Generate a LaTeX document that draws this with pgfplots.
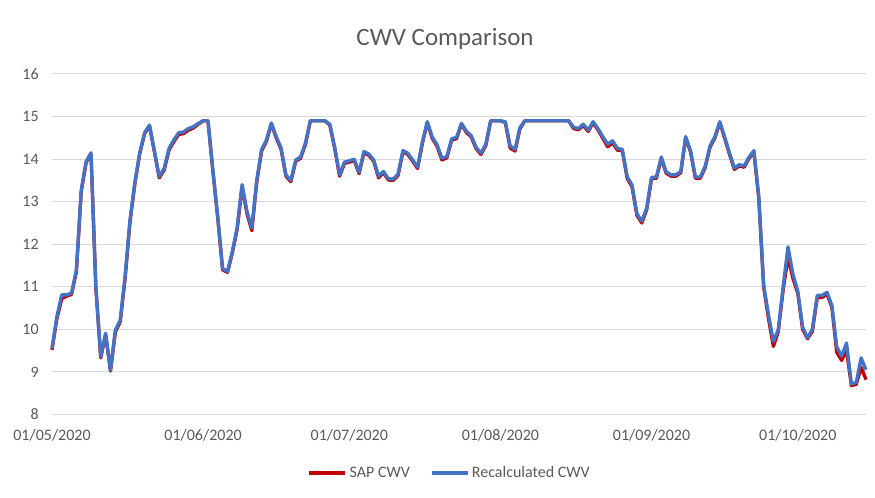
\documentclass[border=0pt]{standalone}
\usepackage{fontspec}
\setmainfont{Carlito}
\usepackage{pgfplots}
\usepackage{pgfplotstable}
\pgfplotsset{compat=1.18}
\definecolor{sapred}{HTML}{C00000}
\definecolor{recblue}{HTML}{4472C4}
\definecolor{gridgrey}{HTML}{D9D9D9}
\definecolor{textgrey}{HTML}{595959}

\pgfplotstableread{
d sap rec
0 9.52 9.55
1 10.25 10.30
2 10.72 10.81
3 10.78 10.81
4 10.82 10.85
5 11.35 11.39
6 13.24 13.27
7 13.92 13.94
8 14.13 14.15
9 10.97 11.00
10 9.33 9.36
11 9.88 9.91
12 9.02 9.04
13 9.94 9.98
14 10.18 10.22
15 11.20 11.25
16 12.52 12.57
17 13.42 13.45
18 14.13 14.15
19 14.60 14.62
20 14.78 14.80
21 14.18 14.20
22 13.56 13.59
23 13.74 13.78
24 14.21 14.25
25 14.41 14.45
26 14.58 14.62
27 14.60 14.64
28 14.68 14.72
29 14.73 14.76
30 14.82 14.84
31 14.90 14.90
32 14.90 14.90
33 13.72 13.75
34 12.62 12.66
35 11.40 11.43
36 11.34 11.36
37 11.80 11.83
38 12.36 12.40
39 13.36 13.40
40 12.72 12.77
41 12.32 12.38
42 13.46 13.50
43 14.19 14.22
44 14.42 14.45
45 14.83 14.85
46 14.50 14.53
47 14.23 14.26
48 13.60 13.63
49 13.47 13.50
50 13.95 13.98
51 14.02 14.05
52 14.35 14.38
53 14.90 14.90
54 14.90 14.90
55 14.90 14.90
56 14.90 14.90
57 14.80 14.82
58 14.25 14.28
59 13.60 13.63
60 13.90 13.93
61 13.93 13.96
62 13.97 14.00
63 13.66 13.69
64 14.15 14.18
65 14.09 14.12
66 13.95 13.98
67 13.56 13.60
68 13.68 13.71
69 13.51 13.54
70 13.50 13.53
71 13.62 13.65
72 14.17 14.20
73 14.11 14.14
74 13.95 13.98
75 13.78 13.81
76 14.38 14.41
77 14.86 14.88
78 14.49 14.52
79 14.30 14.34
80 13.98 14.02
81 14.03 14.06
82 14.45 14.48
83 14.48 14.51
84 14.82 14.84
85 14.63 14.66
86 14.52 14.55
87 14.25 14.28
88 14.11 14.14
89 14.32 14.35
90 14.90 14.90
91 14.90 14.90
92 14.90 14.90
93 14.86 14.88
94 14.26 14.31
95 14.19 14.23
96 14.71 14.74
97 14.90 14.90
98 14.90 14.90
99 14.90 14.90
100 14.90 14.90
101 14.90 14.90
102 14.90 14.90
103 14.90 14.90
104 14.90 14.90
105 14.90 14.90
106 14.90 14.90
107 14.72 14.75
108 14.69 14.72
109 14.79 14.82
110 14.65 14.68
111 14.85 14.88
112 14.69 14.72
113 14.49 14.53
114 14.29 14.35
115 14.38 14.43
116 14.21 14.25
117 14.20 14.23
118 13.55 13.59
119 13.35 13.39
120 12.68 12.72
121 12.50 12.54
122 12.81 12.85
123 13.54 13.57
124 13.55 13.58
125 14.02 14.05
126 13.67 13.70
127 13.60 13.63
128 13.60 13.63
129 13.68 13.71
130 14.50 14.53
131 14.17 14.20
132 13.55 13.58
133 13.55 13.58
134 13.80 13.83
135 14.28 14.31
136 14.50 14.53
137 14.86 14.88
138 14.49 14.52
139 14.11 14.14
140 13.76 13.79
141 13.84 13.87
142 13.81 13.84
143 14.02 14.05
144 14.17 14.20
145 13.08 13.13
146 11.00 11.05
147 10.25 10.34
148 9.60 9.72
149 9.95 9.99
150 10.93 11.00
151 11.70 11.94
152 11.20 11.30
153 10.85 10.90
154 10.00 10.05
155 9.78 9.80
156 9.96 10.01
157 10.75 10.80
158 10.75 10.80
159 10.83 10.87
160 10.52 10.56
161 9.46 9.59
162 9.27 9.37
163 9.52 9.68
164 8.68 8.72
165 8.71 8.75
166 9.11 9.33
167 8.82 9.05
}\cwv

\begin{document}
\begin{tikzpicture}
\path[use as bounding box] (-39pt,-62.625pt) rectangle (617.25pt,310.875pt);
\begin{axis}[
  at={(0pt,0pt)}, anchor=south west,
  scale only axis, width=610.5pt, height=255.375pt,
  xmin=0, xmax=167, ymin=8, ymax=16,
  axis line style={draw=none},
  major tick length=0pt,
  tick style={draw=none},
  ymajorgrids,
  major grid style={gridgrey, line width=0.75pt},
  xtick={0,31,61,92,123,153},
  xticklabels={01/05/2020,01/06/2020,01/07/2020,01/08/2020,01/09/2020,01/10/2020},
  ytick={8,9,...,16},
  /pgf/number format/assume math mode=true,
  tick label style={font=\fontsize{12}{14}\selectfont, text=textgrey},
  yticklabel style={xshift=-6.5pt},
  xticklabel style={yshift=-8pt},
  clip=false,
  legend columns=2,
  legend style={at={(0.489,-0.172)}, anchor=center, draw=none, fill=none,
    font=\fontsize{12}{14}\selectfont, text=textgrey,
    /tikz/every even column/.append style={column sep=13pt}},
  legend image code/.code={\draw[#1] (0pt,0pt) -- (27pt,0pt);},
]
\addplot[sapred, line width=2.5pt, line join=round] table[x=d, y=sap]{\cwv};
\addlegendentry{SAP CWV}
\addplot[recblue, line width=2.5pt, line join=round] table[x=d, y=rec]{\cwv};
\addlegendentry{Recalculated CWV}
\end{axis}
\node[text=textgrey, font=\fontsize{18.7}{22}\selectfont] at (294.75pt,281.5pt) {CWV Comparison};
\end{tikzpicture}
\end{document}
